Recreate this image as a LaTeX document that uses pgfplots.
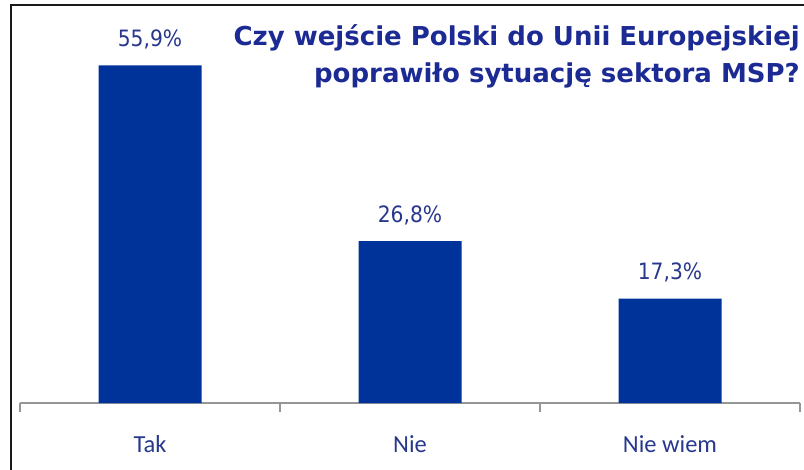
\documentclass[border=0pt]{standalone}
\usepackage{fontspec}
\setmainfont{DejaVu Sans Condensed}
\newfontfamily\calib{Carlito}
\newfontfamily\titlefont{DejaVu Sans}
\usepackage{pgfplots}
\pgfplotsset{compat=1.18}
\definecolor{barblue}{RGB}{0,51,153}
\definecolor{titleblue}{RGB}{28,42,148}
\definecolor{labblue}{RGB}{40,56,140}
\definecolor{axgray}{RGB}{150,150,150}
\begin{document}
\begin{tikzpicture}
\useasboundingbox (0,0) rectangle (804bp,470bp);
\fill[white] (0,0) rectangle (804bp,470bp);
\begin{axis}[
  at={(20bp,67bp)}, anchor=south west,
  scale only axis, width=780bp, height=362.4bp,
  xmin=-0.5, xmax=2.5, ymin=0, ymax=60,
  axis x line=bottom, axis y line=none,
  x axis line style={-, axgray, line width=2bp},
  xtick={-0.5,0.5,1.5,2.5}, xticklabels={},
  tick align=outside, major tick length=9bp,
  tick style={axgray, line width=1.6bp},
  extra x ticks={0,1,2},
  extra x tick labels={Tak,Nie,Nie wiem},
  extra x tick style={major tick length=0pt,
     tick label style={anchor=base, yshift=-49bp}},
  xticklabel style={font=\calib\fontsize{24.5bp}{29bp}\selectfont, text=labblue},
  ybar, bar width=103bp,
  clip=false,
  nodes near coords,
  point meta=explicit symbolic,
  every node near coord/.append style={font=\fontsize{22.5bp}{27bp}\selectfont, text=labblue, anchor=base, inner sep=0pt, yshift=19bp},
]
\addplot[fill=barblue, draw=none] coordinates {(0,55.9) [55,9\%] (1,26.8) [26,8\%] (2,17.3) [17,3\%]};
\end{axis}
\node[anchor=base east, align=right, font=\titlefont\bfseries\fontsize{26bp}{35bp}\selectfont, text=titleblue, inner sep=0pt] at (800bp,424bp) {Czy wejście Polski do Unii Europejskiej};
\node[anchor=base east, align=right, font=\titlefont\bfseries\fontsize{26bp}{35bp}\selectfont, text=titleblue, inner sep=0pt] at (800bp,387bp) {poprawiło sytuację sektora MSP?};
\draw[black!90, line width=2.5bp] (11bp,0) -- (11bp,465bp) -- (804bp,465bp);
\end{tikzpicture}
\end{document}
